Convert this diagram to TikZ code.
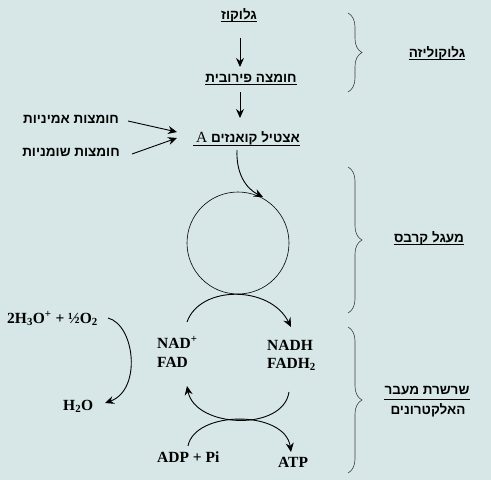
\documentclass[tikz,border=0pt]{standalone}
\usepackage{fontspec}
\setmainfont{Liberation Serif}
\newfontfamily\hebfont[Script=Hebrew]{Liberation Sans}
\TeXXeTstate=1
\usetikzlibrary{arrows.meta,decorations.pathreplacing}
\definecolor{bgc}{RGB}{215,230,230}
\begin{document}
\begin{tikzpicture}[x=1pt,y=-1pt,
  heb/.style={inner sep=0pt, anchor=base, font=\hebfont\bfseries\fontsize{13.5}{16}\selectfont},
  lat/.style={inner sep=0pt, anchor=base west, font=\bfseries\fontsize{15.5}{18}\selectfont},
  arr/.style={line width=0.9pt, -{Stealth[length=9pt,width=8pt,inset=3pt]}},
  ring/.style={line width=0.6pt},
  ul/.style={line width=0.8pt},
  brc/.style={line width=0.6pt, draw=black!75, decorate, decoration={brace, amplitude=14pt}}
]
\fill[bgc] (0,0) rectangle (491,480);
\useasboundingbox (0,0) rectangle (491,480);

% Hebrew labels
\node[heb] (gluc) at (239,19) {\beginR גלוקוז\endR};
\node[heb] (pyr) at (251,82) {\beginR חומצה פירובית\endR};
\node[heb] (acoa) at (248,142) {\beginR אצטיל קואנזים {\rmfamily\mdseries\fontsize{15.5}{16}\selectfont A}\endR};
\node[heb] (amino) at (71,123) {\beginR חומצות אמיניות\endR};
\node[heb] (fatty) at (71,156) {\beginR חומצות שומניות\endR};
\node[heb] (glyc) at (437,57) {\beginR גלוקוליזה\endR};
\node[heb] (krebsl) at (429,242) {\beginR מעגל קרבס\endR};
\node[heb] (etc1) at (427,394) {\beginR שרשרת מעבר\endR};
\node[heb] (etc2) at (428,414) {\beginR האלקטרונים\endR};

\foreach \n in {gluc,pyr,glyc,krebsl}
  \draw[ul] ([yshift=-2pt]\n.base west) -- ([yshift=-2pt]\n.base east);
\draw[ul] ([yshift=-3pt,xshift=-3pt]acoa.base west) -- ([yshift=-3pt]acoa.base east);
\draw[ul] ([yshift=-5pt]etc1.base west) -- ([yshift=-5pt]etc1.base east);

% Latin labels
\node[lat] (hyd) at (7,323) {2H\textsubscript{3}O\textsuperscript{+} + ½O\textsubscript{2}};
\node[lat] (water) at (63,410) {H\textsubscript{2}O};
\node[lat] (nad) at (157,348) {NAD\textsuperscript{+}};
\node[lat] (fad) at (157,367) {FAD};
\node[lat] (nadh) at (267,350) {NADH};
\node[lat] (fadh) at (267,368) {FADH\textsubscript{2}};
\node[lat] (adp) at (157,462) {ADP + Pi};
\node[lat] (atp) at (278,467) {ATP};

% Krebs circle
\node[draw, circle, ring, minimum size=102pt, inner sep=0pt] (krebs) at (238,243) {};

% straight arrows
\coordinate (g1) at (240,38);  \coordinate (g2) at (240,67);
\coordinate (p1) at (240,92);  \coordinate (p2) at (240,118);
\coordinate (am1) at (128,121); \coordinate (am2) at (177,132);
\coordinate (fa1) at (132,154); \coordinate (fa2) at (177,138);
\draw[arr] (g1) -- (g2);
\draw[arr] (p1) -- (p2);
\draw[arr] (am1) -- (am2);
\draw[arr] (fa1) -- (fa2);

% curved arrows
\coordinate (c1) at (237,150); \coordinate (c2) at (263,197);
\draw[arr] (c1) .. controls (236,172) and (245,188) .. (c2);

\coordinate (k1) at (187,322); \coordinate (k2) at (291,327);
\draw[arr] (k1) .. controls (200,285) and (270,285) .. (k2);

\coordinate (h1) at (108,318); \coordinate (h2) at (105,403);
\draw[arr] (h1) .. controls (135,325) and (142,390) .. (h2);

\coordinate (f1) at (289,392); \coordinate (f2) at (187,386);
\draw[arr] (f1) .. controls (283,432) and (195,428) .. (f2);

\coordinate (a1) at (188,446); \coordinate (a2) at (291,452);
\draw[arr] (a1) .. controls (195,410) and (285,410) .. (a2);

% braces
\draw[brc] (348,13) -- (348,92);
\draw[brc] (348,167) -- (348,313);
\draw[brc] (348,327) -- (348,473);
\end{tikzpicture}
\end{document}
